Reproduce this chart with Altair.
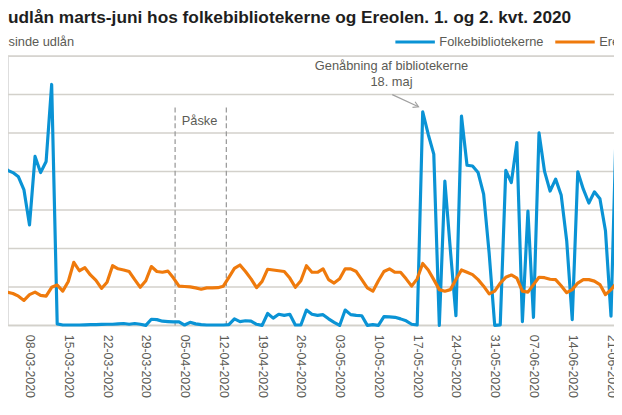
import altair as alt
import pandas as pd

# ---- data ----
start_date = "2020-03-02"
series_names = ["Folkebibliotekerne", "Ereolen"]
series_colors = ["#0A93D5", "#EF7A0C"]

folkebibliotekerne = [
    46.0, 43.3, 40.3, 39.7, 38.6, 35.2, 26.1, 43.9, 39.7, 42.6, 62.6, 0.4, 0.1,
    0.1, 0.1, 0.1, 0.15, 0.2, 0.2, 0.25, 0.3, 0.3, 0.4, 0.5, 0.3, 0.5, 0.3, 0.0,
    1.6, 1.5, 1.1, 1.0, 0.9, 0.9, 0.1, 0.8, 0.4, 0.2, 0.1, 0.1, 0.1, 0.1, 0.2,
    1.7, 1.0, 1.2, 1.1, 0.3, 0.0, 3.1, 1.9, 2.9, 2.6, 2.9, 0.1, 0.1, 4.0, 2.9,
    2.6, 2.8, 1.7, 0.8, 0.0, 4.0, 2.8, 2.6, 2.5, 0.0, 0.2, 0.0, 2.3, 2.2, 2.1,
    1.7, 1.2, 0.3, 0.1, 55.5, 49.6, 44.5, 0.0, 37.5, 19.5, 2.5, 54.4, 41.6, 41.4,
    39.7, 34.1, 18.7, 0.0, 0.15, 40.3, 37.1, 47.5, 1.0, 29.7, 2.1, 50.0, 40.0,
    34.9, 38.0, 33.9, 22.0, 1.5, 39.9, 35.4, 31.8, 34.7, 32.9, 24.6, 2.4, 55.0,
]
ereolen = [
    9.0, 8.9, 8.65, 8.3, 7.6, 6.5, 8.0, 8.65, 7.8, 7.6, 9.9, 10.5, 8.9,
    11.4, 16.4, 14.2, 15.0, 13.1, 11.7, 9.6, 11.2, 15.5, 14.7, 14.4, 14.0, 11.9,
    9.9, 11.6, 15.3, 14.0, 13.8, 14.1, 12.3, 10.2, 10.1, 10.0, 9.75, 9.4, 9.75,
    9.75, 9.8, 10.2, 12.5, 14.8, 15.7, 14.0, 12.1, 9.8, 11.45, 14.6, 14.4, 14.2,
    14.0, 12.3, 9.9, 11.6, 15.5, 13.8, 13.8, 14.7, 11.9, 11.0, 12.1, 14.7, 14.7,
    14.0, 11.9, 9.75, 8.9, 11.6, 14.0, 14.7, 13.8, 13.8, 12.1, 10.2, 12.1, 16.1,
    14.4, 11.9, 9.3, 8.9, 9.3, 11.9, 14.4, 13.8, 13.2, 11.9, 10.2, 8.2, 8.9, 11.0,
    12.5, 13.1, 12.3, 8.9, 8.65, 10.6, 12.5, 12.4, 12.0, 11.9, 10.3, 8.5, 9.3,
    11.0, 11.9, 11.9, 11.5, 10.6, 8.0, 9.3, 11.0,
]
assert len(folkebibliotekerne) == len(ereolen) == 113

tick_dates = [
    (3, 8), (3, 15), (3, 22), (3, 29), (4, 5), (4, 12), (4, 19), (4, 26),
    (5, 3), (5, 10), (5, 17), (5, 24), (5, 31), (6, 7), (6, 14), (6, 21),
]
grid_values = [0, 10, 20, 30, 40, 50, 60, 70]

paaske_dates = ["2020-04-03T07:00:00", "2020-04-12T13:00:00"]
paaske_label = "Påske"
genaabning_lines = ["Genåbning af bibliotekerne", "18. maj"]

title_text = "udlån marts-juni hos folkebibliotekerne og Ereolen. 1. og 2. kvt. 2020"
y_title = "sinde udlån"

# ---- tables ----
dates = pd.date_range(start_date, periods=len(folkebibliotekerne), freq="D")
df = pd.DataFrame({
    "dato": list(dates) * 2,
    "serie": [series_names[0]] * len(dates) + [series_names[1]] * len(dates),
    "udlaan": folkebibliotekerne + ereolen,
})

paaske_df = pd.DataFrame({"dato": pd.to_datetime(paaske_dates), "top": [56.6, 56.6], "bund": [0, 0]})
paaske_txt = pd.DataFrame({"dato": [pd.Timestamp("2020-04-04T11:30:00")], "v": [53.0], "t": [paaske_label]})
gen_txt = pd.DataFrame({
    "dato": [pd.Timestamp("2020-05-12T08:40:00")] * 2,
    "v": [67.4, 63.2],
    "t": genaabning_lines,
})
arrow_df = pd.DataFrame({
    "dato": [pd.Timestamp("2020-05-12T12:00:00")],
    "dato2": [pd.Timestamp("2020-05-17T05:45:00")],
    "v": [59.95], "v2": [56.8],
})
grid_df = pd.DataFrame({"v": grid_values})

FONT = "Liberation Sans, Arial, sans-serif"
GRAY = "#5b5b55"

x_scale = alt.Scale(domain=[
    alt.DateTime(year=2020, month=3, date=4, hours=2, minutes=46),
    alt.DateTime(year=2020, month=6, date=21, hours=13),
])
y_scale = alt.Scale(domain=[0, 70], nice=False)

x_axis = alt.Axis(
    values=[alt.DateTime(year=2020, month=m, date=d) for m, d in tick_dates],
    format="%d-%m-%Y", labelAngle=90, labelFont=FONT, labelFontSize=12.5,
    labelColor=GRAY, labelPadding=9, ticks=False, domain=False, grid=False,
    title=None, labelOverlap=False,
)
y_axis = alt.Axis(
    values=grid_values, labels=False, ticks=False, domain=False, grid=False,
    title=y_title, titleAngle=0, titleAlign="left", titleBaseline="middle",
    titleX=0, titleY=-15, titleFont=FONT, titleFontSize=13,
    titleFontWeight="normal", titleColor=GRAY,
)

# horizontal gridlines drawn as rules at the axis values
grid = alt.Chart(grid_df).mark_rule(color="#D3D1CB", strokeWidth=1.6).encode(
    y=alt.Y("v:Q", scale=y_scale, axis=y_axis),
)

lines = alt.Chart(df).mark_line(strokeWidth=3.2, strokeJoin="round").encode(
    x=alt.X("dato:T", scale=x_scale, axis=x_axis),
    y=alt.Y("udlaan:Q", scale=y_scale),
    color=alt.Color(
        "serie:N",
        scale=alt.Scale(domain=series_names, range=series_colors),
        sort=series_names,
        legend=alt.Legend(
            orient="none", legendX=391, legendY=-35.8, direction="horizontal",
            title=None, symbolType="stroke", symbolSize=1600,
            symbolStrokeWidth=3, labelFont=FONT, labelFontSize=13,
            labelColor=GRAY, labelOffset=3, columnPadding=5, padding=0,
        ),
    ),
)

rules = alt.Chart(paaske_df).mark_rule(
    strokeDash=[5, 3], color="#9c9c9c", strokeWidth=1.3
).encode(x="dato:T", y="top:Q", y2="bund:Q")

paaske_text = alt.Chart(paaske_txt).mark_text(
    align="left", baseline="middle", font=FONT, fontSize=13, color=GRAY
).encode(x="dato:T", y="v:Q", text="t:N")

gen_text = alt.Chart(gen_txt).mark_text(
    align="center", baseline="middle", font=FONT, fontSize=13, color=GRAY
).encode(x="dato:T", y="v:Q", text="t:N")

arrow_line = alt.Chart(arrow_df).mark_rule(color="#a0a0a0", strokeWidth=1.2).encode(
    x="dato:T", x2="dato2:T", y="v:Q", y2="v2:Q"
)
arrow_head = alt.Chart(arrow_df).mark_point(
    shape="M -1 -0.6 L 0 0 L -1 0.6", filled=False, color="#a0a0a0",
    strokeWidth=1.2, size=110, angle=24.8, opacity=1,
).encode(x="dato2:T", y="v2:Q")

chart = alt.layer(grid, rules, lines, paaske_text, gen_text, arrow_line, arrow_head).properties(
    width=614, height=273,
    autosize=alt.AutoSizeParams(type="none"),
    padding={"left": 0, "top": 46, "right": 0, "bottom": 75},
    title=alt.Title(
        text=title_text, anchor="start", frame="group", font="Liberation Sans",
        fontSize=17.5, fontWeight="bold", color="#1e1e1e", offset=0, dy=5.5,
    ),
).configure_view(stroke=None).configure(background="white")

chart.save("out.html", embed_options={"renderer": "svg", "actions": False})
